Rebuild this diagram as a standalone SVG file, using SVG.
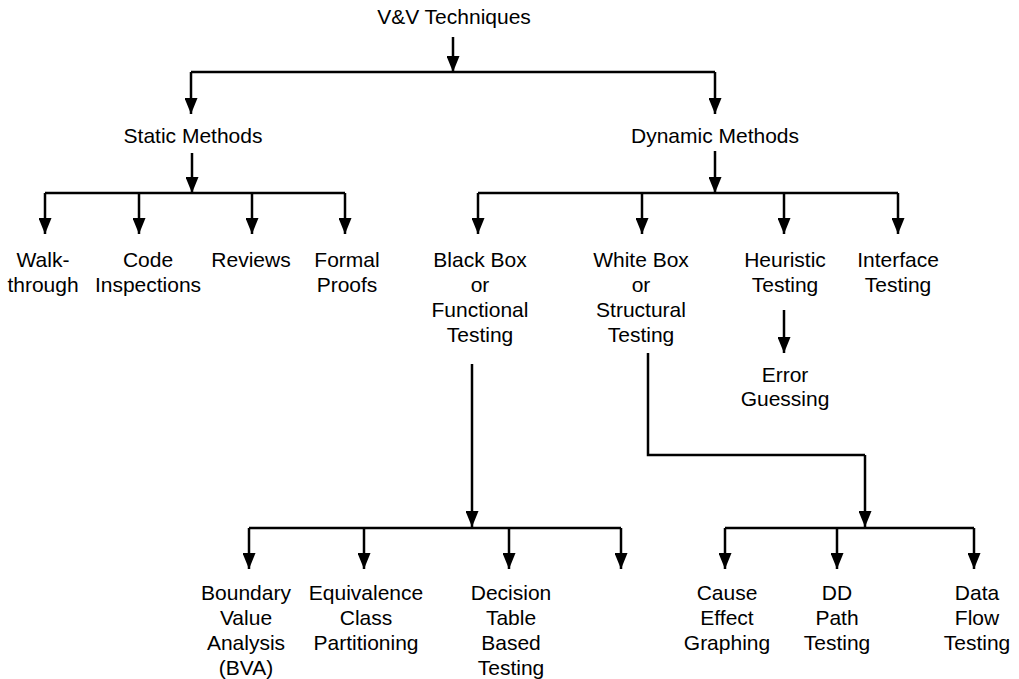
<svg xmlns="http://www.w3.org/2000/svg" width="1019" height="679" viewBox="0 0 1019 679">
<style>
text{font-family:"Liberation Sans",Arial,Helvetica,sans-serif;font-size:21px;fill:#000;text-anchor:middle}
.c{fill:none;stroke:#000;stroke-width:2.5}
.a{marker-end:url(#ah)}
</style>
<defs>
<marker id="ah" markerUnits="userSpaceOnUse" markerWidth="16" markerHeight="13" viewBox="0 0 16 13" refX="16" refY="6.5" orient="auto">
<path d="M0,0 L16,6.5 L0,13 z" fill="#000"/>
</marker>
</defs>
<rect width="1019" height="679" fill="#fff"/>
<g id="connectors">
<path class="c a" d="M453,37 V72"/>
<path class="c" d="M191,72 H715"/>
<path class="c a" d="M191,72 V114"/>
<path class="c a" d="M715,72 V114"/>
<path class="c a" d="M192,153 V193"/>
<path class="c" d="M45,193 H345"/>
<path class="c a" d="M45,193 V234"/>
<path class="c a" d="M139,193 V234"/>
<path class="c a" d="M252,193 V234"/>
<path class="c a" d="M345,193 V234"/>
<path class="c a" d="M715,151 V193"/>
<path class="c" d="M478,193 H898"/>
<path class="c a" d="M478,193 V234"/>
<path class="c a" d="M642,193 V234"/>
<path class="c a" d="M784,193 V234"/>
<path class="c a" d="M898,193 V234"/>
<path class="c a" d="M784,310 V353"/>
<path class="c a" d="M472,364 V527"/>
<path class="c" d="M249,528 H621"/>
<path class="c a" d="M249,528 V569"/>
<path class="c a" d="M364,528 V569"/>
<path class="c a" d="M509,528 V569"/>
<path class="c a" d="M621,528 V569"/>
<path class="c" d="M648,353 V455 H865"/>
<path class="c a" d="M865,455 V527"/>
<path class="c" d="M725,528 H974"/>
<path class="c a" d="M725,528 V569"/>
<path class="c a" d="M837,528 V569"/>
<path class="c a" d="M974,528 V569"/>
</g>
<g id="vv"><text x="454" y="24">V&amp;V Techniques</text></g>
<g id="static"><text x="193" y="143">Static Methods</text></g>
<g id="dynamic"><text x="715" y="143">Dynamic Methods</text></g>
<g id="walkthrough"><text x="43" y="267">Walk-</text><text x="43" y="292">through</text></g>
<g id="inspections"><text x="148" y="267">Code</text><text x="148" y="292">Inspections</text></g>
<g id="reviews"><text x="251" y="267">Reviews</text></g>
<g id="proofs"><text x="347" y="267">Formal</text><text x="347" y="292">Proofs</text></g>
<g id="blackbox"><text x="480" y="267">Black Box</text><text x="480" y="292">or</text><text x="480" y="317">Functional</text><text x="480" y="342">Testing</text></g>
<g id="whitebox"><text x="641" y="267">White Box</text><text x="641" y="292">or</text><text x="641" y="317">Structural</text><text x="641" y="342">Testing</text></g>
<g id="heuristic"><text x="785" y="267">Heuristic</text><text x="785" y="292">Testing</text></g>
<g id="interface"><text x="898" y="267">Interface</text><text x="898" y="292">Testing</text></g>
<g id="error"><text x="785" y="382">Error</text><text x="785" y="406">Guessing</text></g>
<g id="bva"><text x="246" y="600">Boundary</text><text x="246" y="625">Value</text><text x="246" y="650">Analysis</text><text x="246" y="675">(BVA)</text></g>
<g id="ecp"><text x="366" y="600">Equivalence</text><text x="366" y="625">Class</text><text x="366" y="650">Partitioning</text></g>
<g id="decision"><text x="511" y="600">Decision</text><text x="511" y="625">Table</text><text x="511" y="650">Based</text><text x="511" y="675">Testing</text></g>
<g id="cause"><text x="727" y="600">Cause</text><text x="727" y="625">Effect</text><text x="727" y="650">Graphing</text></g>
<g id="ddpath"><text x="837" y="600">DD</text><text x="837" y="625">Path</text><text x="837" y="650">Testing</text></g>
<g id="dataflow"><text x="977" y="600">Data</text><text x="977" y="625">Flow</text><text x="977" y="650">Testing</text></g>
</svg>
